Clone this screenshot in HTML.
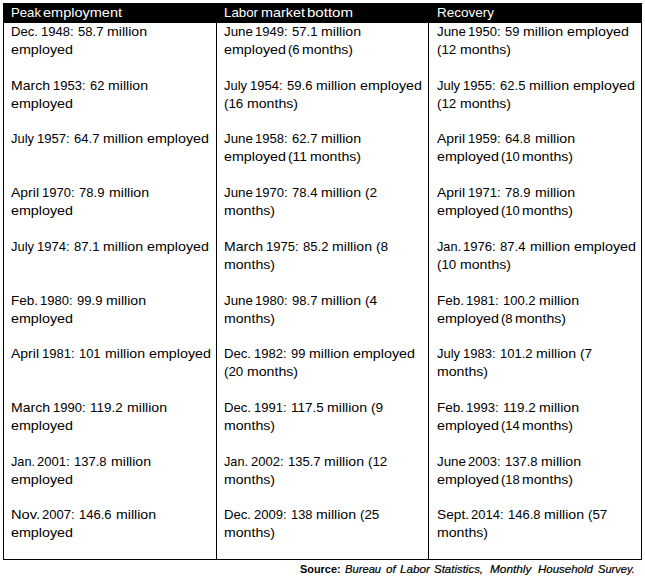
<!DOCTYPE html><html><head><meta charset='utf-8'><title>Employment table</title><style>

html,body{margin:0;padding:0;background:#fff;}
body{width:645px;height:585px;position:relative;overflow:hidden;font-family:"Liberation Sans",sans-serif;color:#000;}
.t{position:absolute;white-space:pre;line-height:1;transform-origin:0 0;display:block;}
.b{font-size:13.2px;}
.h{font-size:13.2px;color:#fff;}
.fb{font-size:11.3px;font-weight:bold;}
.fi{font-size:11.3px;font-style:italic;-webkit-text-stroke:0.2px #000;}
.r{position:absolute;background:#000;}

</style></head><body>

<div class="r" style="left:3px;top:3px;width:639px;height:20px"></div>
<div class="r" style="left:3px;top:3px;width:1px;height:557px"></div>
<div class="r" style="left:641px;top:3px;width:1px;height:557px"></div>
<div class="r" style="left:3px;top:559px;width:639px;height:1px"></div>
<div class="r" style="left:216px;top:3px;width:1px;height:557px"></div>
<div class="r" style="left:428px;top:3px;width:1px;height:557px"></div>

<span class="t b" style="left:11.00px;top:25.00px;transform:scaleX(0.9957)">Dec.</span>
<span class="t b" style="left:40.54px;top:25.00px;transform:scaleX(0.9879)">1948:</span>
<span class="t b" style="left:77.52px;top:25.00px;transform:scaleX(0.9916)">58.7</span>
<span class="t b" style="left:106.83px;top:25.00px;transform:scaleX(1.0703)">million</span>
<span class="t b" style="left:11.00px;top:43.00px;transform:scaleX(1.0843)">employed</span>
<span class="t b" style="left:11.00px;top:79.00px;transform:scaleX(1.0644)">March</span>
<span class="t b" style="left:52.90px;top:79.00px;transform:scaleX(0.9879)">1953:</span>
<span class="t b" style="left:89.88px;top:79.00px;transform:scaleX(0.9749)">62</span>
<span class="t b" style="left:108.06px;top:79.00px;transform:scaleX(1.0703)">million</span>
<span class="t b" style="left:11.00px;top:97.00px;transform:scaleX(1.0843)">employed</span>
<span class="t b" style="left:11.00px;top:132.00px;transform:scaleX(0.9807)">July</span>
<span class="t b" style="left:36.70px;top:132.00px;transform:scaleX(0.9879)">1957:</span>
<span class="t b" style="left:73.68px;top:132.00px;transform:scaleX(0.9916)">64.7</span>
<span class="t b" style="left:103.00px;top:132.00px;transform:scaleX(1.0703)">million</span>
<span class="t b" style="left:146.93px;top:132.00px;transform:scaleX(1.0843)">employed</span>
<span class="t b" style="left:11.00px;top:186.00px;transform:scaleX(1.0614)">April</span>
<span class="t b" style="left:42.35px;top:186.00px;transform:scaleX(0.9879)">1970:</span>
<span class="t b" style="left:79.33px;top:186.00px;transform:scaleX(0.9916)">78.9</span>
<span class="t b" style="left:108.65px;top:186.00px;transform:scaleX(1.0703)">million</span>
<span class="t b" style="left:11.00px;top:204.00px;transform:scaleX(1.0843)">employed</span>
<span class="t b" style="left:11.00px;top:240.00px;transform:scaleX(0.9807)">July</span>
<span class="t b" style="left:36.70px;top:240.00px;transform:scaleX(0.9879)">1974:</span>
<span class="t b" style="left:73.68px;top:240.00px;transform:scaleX(0.9916)">87.1</span>
<span class="t b" style="left:103.00px;top:240.00px;transform:scaleX(1.0703)">million</span>
<span class="t b" style="left:146.93px;top:240.00px;transform:scaleX(1.0843)">employed</span>
<span class="t b" style="left:11.00px;top:294.00px;transform:scaleX(1.0232)">Feb.</span>
<span class="t b" style="left:39.76px;top:294.00px;transform:scaleX(0.9879)">1980:</span>
<span class="t b" style="left:76.74px;top:294.00px;transform:scaleX(0.9916)">99.9</span>
<span class="t b" style="left:106.05px;top:294.00px;transform:scaleX(1.0703)">million</span>
<span class="t b" style="left:11.00px;top:312.00px;transform:scaleX(1.0843)">employed</span>
<span class="t b" style="left:11.00px;top:347.00px;transform:scaleX(1.0614)">April</span>
<span class="t b" style="left:42.35px;top:347.00px;transform:scaleX(0.9879)">1981:</span>
<span class="t b" style="left:79.33px;top:347.00px;transform:scaleX(0.9749)">101</span>
<span class="t b" style="left:104.94px;top:347.00px;transform:scaleX(1.0703)">million</span>
<span class="t b" style="left:148.88px;top:347.00px;transform:scaleX(1.0843)">employed</span>
<span class="t b" style="left:11.00px;top:401.00px;transform:scaleX(1.0644)">March</span>
<span class="t b" style="left:52.90px;top:401.00px;transform:scaleX(0.9879)">1990:</span>
<span class="t b" style="left:89.88px;top:401.00px;transform:scaleX(1.0181)">119.2</span>
<span class="t b" style="left:126.63px;top:401.00px;transform:scaleX(1.0703)">million</span>
<span class="t b" style="left:11.00px;top:419.00px;transform:scaleX(1.0843)">employed</span>
<span class="t b" style="left:11.00px;top:455.00px;transform:scaleX(0.9628)">Jan.</span>
<span class="t b" style="left:37.43px;top:455.00px;transform:scaleX(0.9879)">2001:</span>
<span class="t b" style="left:74.40px;top:455.00px;transform:scaleX(0.9879)">137.8</span>
<span class="t b" style="left:111.15px;top:455.00px;transform:scaleX(1.0703)">million</span>
<span class="t b" style="left:11.00px;top:473.00px;transform:scaleX(1.0843)">employed</span>
<span class="t b" style="left:11.00px;top:508.00px;transform:scaleX(1.1096)">Nov.</span>
<span class="t b" style="left:41.84px;top:508.00px;transform:scaleX(0.9879)">2007:</span>
<span class="t b" style="left:78.82px;top:508.00px;transform:scaleX(0.9879)">146.6</span>
<span class="t b" style="left:115.57px;top:508.00px;transform:scaleX(1.0703)">million</span>
<span class="t b" style="left:11.00px;top:526.00px;transform:scaleX(1.0843)">employed</span>
<span class="t b" style="left:224.20px;top:25.00px;transform:scaleX(1.0141)">June</span>
<span class="t b" style="left:254.90px;top:25.00px;transform:scaleX(0.9879)">1949:</span>
<span class="t b" style="left:291.88px;top:25.00px;transform:scaleX(0.9916)">57.1</span>
<span class="t b" style="left:321.20px;top:25.00px;transform:scaleX(1.0703)">million</span>
<span class="t b" style="left:224.20px;top:43.00px;transform:scaleX(1.0843)">employed</span>
<span class="t b" style="left:287.88px;top:43.00px;transform:scaleX(0.9935)">(6</span>
<span class="t b" style="left:302.17px;top:43.00px;transform:scaleX(1.0706)">months)</span>
<span class="t b" style="left:224.20px;top:79.00px;transform:scaleX(0.9807)">July</span>
<span class="t b" style="left:249.90px;top:79.00px;transform:scaleX(0.9879)">1954:</span>
<span class="t b" style="left:286.88px;top:79.00px;transform:scaleX(0.9916)">59.6</span>
<span class="t b" style="left:316.20px;top:79.00px;transform:scaleX(1.0703)">million</span>
<span class="t b" style="left:360.13px;top:79.00px;transform:scaleX(1.0843)">employed</span>
<span class="t b" style="left:224.20px;top:97.00px;transform:scaleX(1.0126)">(16</span>
<span class="t b" style="left:246.83px;top:97.00px;transform:scaleX(1.0706)">months)</span>
<span class="t b" style="left:224.20px;top:132.00px;transform:scaleX(1.0141)">June</span>
<span class="t b" style="left:254.90px;top:132.00px;transform:scaleX(0.9879)">1958:</span>
<span class="t b" style="left:291.88px;top:132.00px;transform:scaleX(0.9916)">62.7</span>
<span class="t b" style="left:321.20px;top:132.00px;transform:scaleX(1.0703)">million</span>
<span class="t b" style="left:224.20px;top:150.00px;transform:scaleX(1.0843)">employed</span>
<span class="t b" style="left:287.88px;top:150.00px;transform:scaleX(1.0398)">(11</span>
<span class="t b" style="left:309.61px;top:150.00px;transform:scaleX(1.0706)">months)</span>
<span class="t b" style="left:224.20px;top:186.00px;transform:scaleX(1.0141)">June</span>
<span class="t b" style="left:254.90px;top:186.00px;transform:scaleX(0.9879)">1970:</span>
<span class="t b" style="left:291.88px;top:186.00px;transform:scaleX(0.9916)">78.4</span>
<span class="t b" style="left:321.20px;top:186.00px;transform:scaleX(1.0703)">million</span>
<span class="t b" style="left:365.13px;top:186.00px;transform:scaleX(1.0362)">(2</span>
<span class="t b" style="left:224.20px;top:204.00px;transform:scaleX(1.0706)">months)</span>
<span class="t b" style="left:224.20px;top:240.00px;transform:scaleX(1.0644)">March</span>
<span class="t b" style="left:266.10px;top:240.00px;transform:scaleX(0.9879)">1975:</span>
<span class="t b" style="left:303.08px;top:240.00px;transform:scaleX(0.9916)">85.2</span>
<span class="t b" style="left:332.40px;top:240.00px;transform:scaleX(1.0703)">million</span>
<span class="t b" style="left:376.33px;top:240.00px;transform:scaleX(1.0362)">(8</span>
<span class="t b" style="left:224.20px;top:258.00px;transform:scaleX(1.0706)">months)</span>
<span class="t b" style="left:224.20px;top:294.00px;transform:scaleX(1.0141)">June</span>
<span class="t b" style="left:254.90px;top:294.00px;transform:scaleX(0.9879)">1980:</span>
<span class="t b" style="left:291.88px;top:294.00px;transform:scaleX(0.9916)">98.7</span>
<span class="t b" style="left:321.20px;top:294.00px;transform:scaleX(1.0703)">million</span>
<span class="t b" style="left:365.13px;top:294.00px;transform:scaleX(1.0362)">(4</span>
<span class="t b" style="left:224.20px;top:312.00px;transform:scaleX(1.0706)">months)</span>
<span class="t b" style="left:224.20px;top:347.00px;transform:scaleX(0.9957)">Dec.</span>
<span class="t b" style="left:253.74px;top:347.00px;transform:scaleX(0.9879)">1982:</span>
<span class="t b" style="left:290.72px;top:347.00px;transform:scaleX(0.9749)">99</span>
<span class="t b" style="left:308.90px;top:347.00px;transform:scaleX(1.0703)">million</span>
<span class="t b" style="left:352.83px;top:347.00px;transform:scaleX(1.0843)">employed</span>
<span class="t b" style="left:224.20px;top:365.00px;transform:scaleX(1.0126)">(20</span>
<span class="t b" style="left:246.83px;top:365.00px;transform:scaleX(1.0706)">months)</span>
<span class="t b" style="left:224.20px;top:401.00px;transform:scaleX(0.9957)">Dec.</span>
<span class="t b" style="left:253.74px;top:401.00px;transform:scaleX(0.9879)">1991:</span>
<span class="t b" style="left:290.72px;top:401.00px;transform:scaleX(1.0181)">117.5</span>
<span class="t b" style="left:327.47px;top:401.00px;transform:scaleX(1.0703)">million</span>
<span class="t b" style="left:371.40px;top:401.00px;transform:scaleX(1.0362)">(9</span>
<span class="t b" style="left:224.20px;top:419.00px;transform:scaleX(1.0706)">months)</span>
<span class="t b" style="left:224.20px;top:455.00px;transform:scaleX(0.9628)">Jan.</span>
<span class="t b" style="left:250.63px;top:455.00px;transform:scaleX(0.9879)">2002:</span>
<span class="t b" style="left:287.60px;top:455.00px;transform:scaleX(0.9879)">135.7</span>
<span class="t b" style="left:324.35px;top:455.00px;transform:scaleX(1.0703)">million</span>
<span class="t b" style="left:368.29px;top:455.00px;transform:scaleX(1.0126)">(12</span>
<span class="t b" style="left:224.20px;top:473.00px;transform:scaleX(1.0706)">months)</span>
<span class="t b" style="left:224.20px;top:508.00px;transform:scaleX(0.9957)">Dec.</span>
<span class="t b" style="left:253.74px;top:508.00px;transform:scaleX(0.9879)">2009:</span>
<span class="t b" style="left:290.72px;top:508.00px;transform:scaleX(0.9749)">138</span>
<span class="t b" style="left:316.33px;top:508.00px;transform:scaleX(1.0703)">million</span>
<span class="t b" style="left:360.27px;top:508.00px;transform:scaleX(1.0126)">(25</span>
<span class="t b" style="left:224.20px;top:526.00px;transform:scaleX(1.0706)">months)</span>
<span class="t b" style="left:437.00px;top:25.00px;transform:scaleX(1.0141)">June</span>
<span class="t b" style="left:467.70px;top:25.00px;transform:scaleX(0.9879)">1950:</span>
<span class="t b" style="left:504.68px;top:25.00px;transform:scaleX(0.9749)">59</span>
<span class="t b" style="left:522.86px;top:25.00px;transform:scaleX(1.0703)">million</span>
<span class="t b" style="left:566.79px;top:25.00px;transform:scaleX(1.0843)">employed</span>
<span class="t b" style="left:437.00px;top:43.00px;transform:scaleX(1.0126)">(12</span>
<span class="t b" style="left:459.63px;top:43.00px;transform:scaleX(1.0706)">months)</span>
<span class="t b" style="left:437.00px;top:79.00px;transform:scaleX(0.9807)">July</span>
<span class="t b" style="left:462.70px;top:79.00px;transform:scaleX(0.9879)">1955:</span>
<span class="t b" style="left:499.68px;top:79.00px;transform:scaleX(0.9916)">62.5</span>
<span class="t b" style="left:529.00px;top:79.00px;transform:scaleX(1.0703)">million</span>
<span class="t b" style="left:572.93px;top:79.00px;transform:scaleX(1.0843)">employed</span>
<span class="t b" style="left:437.00px;top:97.00px;transform:scaleX(1.0126)">(12</span>
<span class="t b" style="left:459.63px;top:97.00px;transform:scaleX(1.0706)">months)</span>
<span class="t b" style="left:437.00px;top:132.00px;transform:scaleX(1.0614)">April</span>
<span class="t b" style="left:468.35px;top:132.00px;transform:scaleX(0.9879)">1959:</span>
<span class="t b" style="left:505.33px;top:132.00px;transform:scaleX(0.9916)">64.8</span>
<span class="t b" style="left:534.65px;top:132.00px;transform:scaleX(1.0703)">million</span>
<span class="t b" style="left:437.00px;top:150.00px;transform:scaleX(1.0843)">employed</span>
<span class="t b" style="left:500.68px;top:150.00px;transform:scaleX(0.9864)">(10</span>
<span class="t b" style="left:522.41px;top:150.00px;transform:scaleX(1.0706)">months)</span>
<span class="t b" style="left:437.00px;top:186.00px;transform:scaleX(1.0614)">April</span>
<span class="t b" style="left:468.35px;top:186.00px;transform:scaleX(0.9879)">1971:</span>
<span class="t b" style="left:505.33px;top:186.00px;transform:scaleX(0.9916)">78.9</span>
<span class="t b" style="left:534.65px;top:186.00px;transform:scaleX(1.0703)">million</span>
<span class="t b" style="left:437.00px;top:204.00px;transform:scaleX(1.0843)">employed</span>
<span class="t b" style="left:500.68px;top:204.00px;transform:scaleX(0.9864)">(10</span>
<span class="t b" style="left:522.41px;top:204.00px;transform:scaleX(1.0706)">months)</span>
<span class="t b" style="left:437.00px;top:240.00px;transform:scaleX(0.9628)">Jan.</span>
<span class="t b" style="left:463.43px;top:240.00px;transform:scaleX(0.9879)">1976:</span>
<span class="t b" style="left:500.40px;top:240.00px;transform:scaleX(0.9916)">87.4</span>
<span class="t b" style="left:529.72px;top:240.00px;transform:scaleX(1.0703)">million</span>
<span class="t b" style="left:573.66px;top:240.00px;transform:scaleX(1.0843)">employed</span>
<span class="t b" style="left:437.00px;top:258.00px;transform:scaleX(1.0126)">(10</span>
<span class="t b" style="left:459.63px;top:258.00px;transform:scaleX(1.0706)">months)</span>
<span class="t b" style="left:437.00px;top:294.00px;transform:scaleX(1.0232)">Feb.</span>
<span class="t b" style="left:465.76px;top:294.00px;transform:scaleX(0.9879)">1981:</span>
<span class="t b" style="left:502.74px;top:294.00px;transform:scaleX(0.9879)">100.2</span>
<span class="t b" style="left:539.49px;top:294.00px;transform:scaleX(1.0703)">million</span>
<span class="t b" style="left:437.00px;top:312.00px;transform:scaleX(1.0843)">employed</span>
<span class="t b" style="left:500.68px;top:312.00px;transform:scaleX(0.9935)">(8</span>
<span class="t b" style="left:514.97px;top:312.00px;transform:scaleX(1.0706)">months)</span>
<span class="t b" style="left:437.00px;top:347.00px;transform:scaleX(0.9807)">July</span>
<span class="t b" style="left:462.70px;top:347.00px;transform:scaleX(0.9879)">1983:</span>
<span class="t b" style="left:499.68px;top:347.00px;transform:scaleX(0.9879)">101.2</span>
<span class="t b" style="left:536.43px;top:347.00px;transform:scaleX(1.0703)">million</span>
<span class="t b" style="left:580.37px;top:347.00px;transform:scaleX(1.0362)">(7</span>
<span class="t b" style="left:437.00px;top:365.00px;transform:scaleX(1.0706)">months)</span>
<span class="t b" style="left:437.00px;top:401.00px;transform:scaleX(1.0232)">Feb.</span>
<span class="t b" style="left:465.76px;top:401.00px;transform:scaleX(0.9879)">1993:</span>
<span class="t b" style="left:502.74px;top:401.00px;transform:scaleX(1.0181)">119.2</span>
<span class="t b" style="left:539.49px;top:401.00px;transform:scaleX(1.0703)">million</span>
<span class="t b" style="left:437.00px;top:419.00px;transform:scaleX(1.0843)">employed</span>
<span class="t b" style="left:500.68px;top:419.00px;transform:scaleX(0.9864)">(14</span>
<span class="t b" style="left:522.41px;top:419.00px;transform:scaleX(1.0706)">months)</span>
<span class="t b" style="left:437.00px;top:455.00px;transform:scaleX(1.0141)">June</span>
<span class="t b" style="left:467.70px;top:455.00px;transform:scaleX(0.9879)">2003:</span>
<span class="t b" style="left:504.68px;top:455.00px;transform:scaleX(0.9879)">137.8</span>
<span class="t b" style="left:541.43px;top:455.00px;transform:scaleX(1.0703)">million</span>
<span class="t b" style="left:437.00px;top:473.00px;transform:scaleX(1.0843)">employed</span>
<span class="t b" style="left:500.68px;top:473.00px;transform:scaleX(0.9864)">(18</span>
<span class="t b" style="left:522.41px;top:473.00px;transform:scaleX(1.0706)">months)</span>
<span class="t b" style="left:437.00px;top:508.00px;transform:scaleX(1.0392)">Sept.</span>
<span class="t b" style="left:470.67px;top:508.00px;transform:scaleX(0.9879)">2014:</span>
<span class="t b" style="left:507.65px;top:508.00px;transform:scaleX(0.9879)">146.8</span>
<span class="t b" style="left:544.40px;top:508.00px;transform:scaleX(1.0703)">million</span>
<span class="t b" style="left:588.34px;top:508.00px;transform:scaleX(1.0126)">(57</span>
<span class="t b" style="left:437.00px;top:526.00px;transform:scaleX(1.0706)">months)</span>
<span class="t h" style="left:11.00px;top:6.13px;transform:scaleX(0.9981)">Peak</span>
<span class="t h" style="left:42.88px;top:6.13px;transform:scaleX(1.0998)">employment</span>
<span class="t h" style="left:224.20px;top:6.13px;transform:scaleX(1.0080)">Labor</span>
<span class="t h" style="left:261.26px;top:6.13px;transform:scaleX(1.0917)">market</span>
<span class="t h" style="left:307.31px;top:6.13px;transform:scaleX(1.1410)">bottom</span>
<span class="t h" style="left:437.00px;top:6.13px;transform:scaleX(1.0234)">Recovery</span>
<span class="t fb" style="left:300.30px;top:564.43px;transform:scaleX(0.9661)">Source:</span>
<span class="t fi" style="left:344.70px;top:564.43px;transform:scaleX(0.9907)">Bureau</span>
<span class="t fi" style="left:386.00px;top:564.43px;transform:scaleX(1.0281)">of</span>
<span class="t fi" style="left:400.40px;top:564.43px;transform:scaleX(1.0355)">Labor</span>
<span class="t fi" style="left:433.90px;top:564.43px;transform:scaleX(1.0149)">Statistics,</span>
<span class="t fi" style="left:490.10px;top:564.43px;transform:scaleX(1.0438)">Monthly</span>
<span class="t fi" style="left:538.10px;top:564.43px;transform:scaleX(1.0159)">Household</span>
<span class="t fi" style="left:598.10px;top:564.43px;transform:scaleX(0.9805)">Survey.</span>
</body></html>
